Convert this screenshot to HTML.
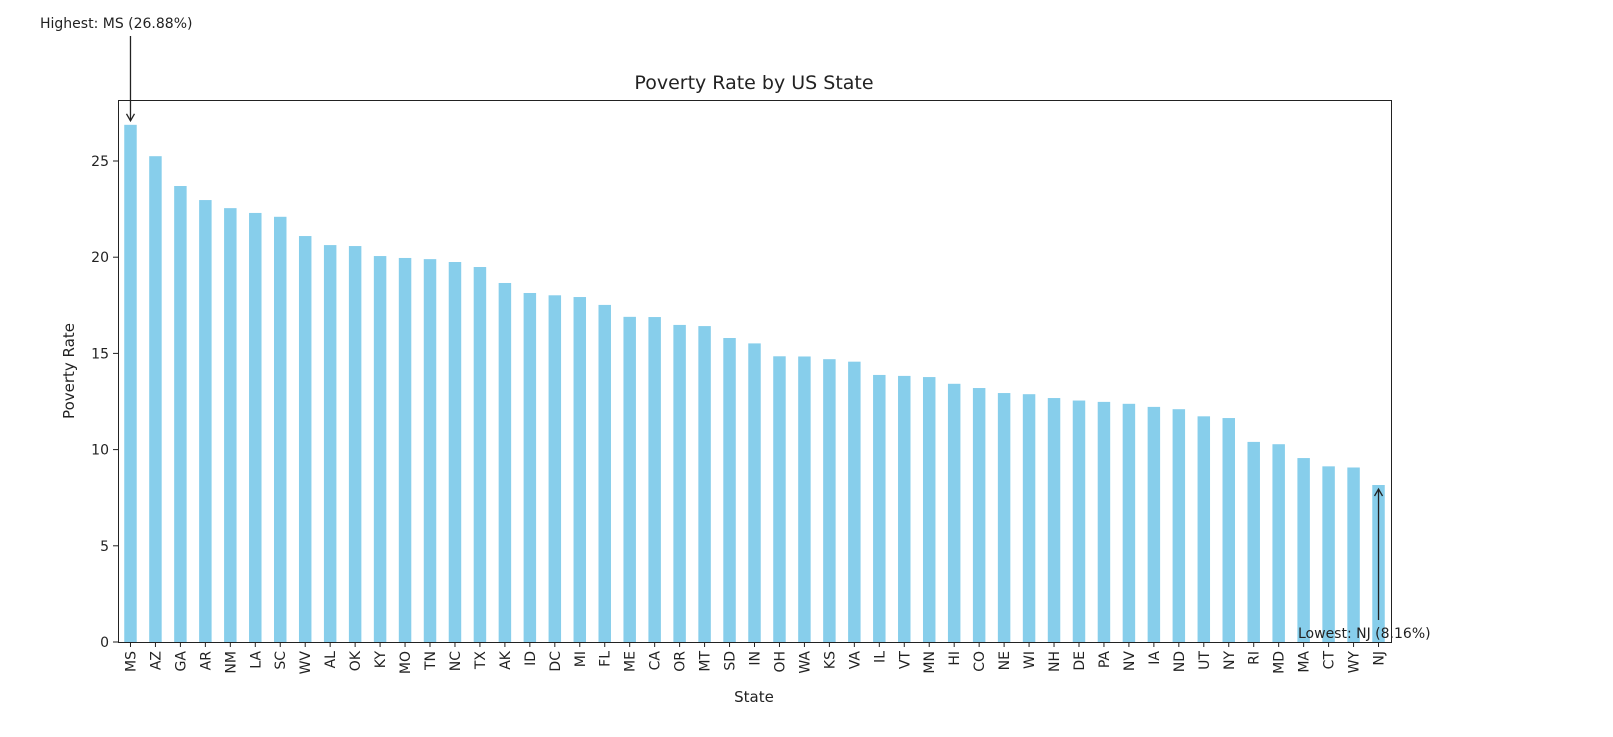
<!DOCTYPE html>
<html><head><meta charset="utf-8"><style>
body{margin:0;background:#fff;width:1613px;height:732px;overflow:hidden;font-family:"Liberation Sans","DejaVu Sans",sans-serif}
</style></head><body>
<svg id="chart" width="1613" height="732" xmlns="http://www.w3.org/2000/svg" font-family="DejaVu Sans, Liberation Sans, sans-serif">
<defs><marker id="ah" markerWidth="10" markerHeight="10" refX="8" refY="5" orient="auto" markerUnits="userSpaceOnUse"><path d="M1,1 L8,5 L1,9" fill="none" stroke="#222" stroke-width="1.3"/></marker></defs>
<text x="754" y="89" font-size="19" text-anchor="middle" fill="#222">Poverty Rate by US State</text>
<g id="bars"></g><g id="yticks"></g><g id="xticks"></g>
<rect x="118.5" y="100.5" width="1273" height="542" fill="none" stroke="#222" stroke-width="1"/>
<text transform="translate(74,371) rotate(-90)" font-size="15" text-anchor="middle" fill="#222">Poverty Rate</text>
<text x="754" y="702" font-size="15" text-anchor="middle" fill="#222">State</text>
<g id="annot"></g>
</svg>
<script>
const states=["MS","AZ","GA","AR","NM","LA","SC","WV","AL","OK","KY","MO","TN","NC","TX","AK","ID","DC","MI","FL","ME","CA","OR","MT","SD","IN","OH","WA","KS","VA","IL","VT","MN","HI","CO","NE","WI","NH","DE","PA","NV","IA","ND","UT","NY","RI","MD","MA","CT","WY","NJ"];
const rates=[26.88,25.25,23.7,22.97,22.55,22.3,22.1,21.1,20.63,20.58,20.06,19.96,19.9,19.75,19.49,18.66,18.14,18.02,17.93,17.52,16.9,16.89,16.48,16.42,15.8,15.52,14.85,14.84,14.7,14.57,13.88,13.83,13.77,13.42,13.2,12.94,12.88,12.68,12.55,12.48,12.38,12.22,12.1,11.73,11.64,10.4,10.28,9.56,9.13,9.07,8.16];
const yTicks=[0,5,10,15,20,25];
const L=118,R=1391,B=642,PX=19.24;
const NS="http://www.w3.org/2000/svg";
const step=(R-L)/states.length;
const xc=i=>L+step*(i+0.5);
const ys=v=>B-v*PX;
function mk(t,a,p){const e=document.createElementNS(NS,t);for(const k in a)e.setAttribute(k,a[k]);p.appendChild(e);return e;}
const gb=document.getElementById('bars'),gx=document.getElementById('xticks'),gy=document.getElementById('yticks'),ga=document.getElementById('annot');
states.forEach((s,i)=>{
 const r=mk('rect',{x:xc(i)-step/4,y:ys(rates[i]),width:step/2,height:B-ys(rates[i]),fill:'#87ceeb'},gb);
 
 
 mk('line',{x1:xc(i),x2:xc(i),y1:B,y2:B+5,stroke:'#222'},gx);
 const t=mk('text',{transform:`translate(${xc(i)+5},${B+9}) rotate(-90)`,'font-size':14,'text-anchor':'end',fill:'#222'},gx);
 t.textContent=s;
 
 
});
yTicks.forEach(v=>{
 mk('line',{x1:L-5,x2:L,y1:ys(v),y2:ys(v),stroke:'#222'},gy);
 const t=mk('text',{x:L-9,y:ys(v)+5,'font-size':14,'text-anchor':'end',fill:'#222'},gy);
 t.textContent=v;
 
 
});
let mi=0,ni=0;rates.forEach((v,i)=>{if(v>rates[mi])mi=i;if(v<rates[ni])ni=i;});
const h=mk('text',{x:40,y:28,'font-size':14,fill:'#222'},ga);
h.textContent=`Highest: ${states[mi]} (${rates[mi].toFixed(2)}%)`;


mk('line',{x1:xc(mi),x2:xc(mi),y1:36,y2:ys(rates[mi])-4,stroke:'#222','stroke-width':1.3,'marker-end':'url(#ah)'},ga);
const lo=mk('text',{x:1298,y:638,'font-size':14,fill:'#222'},ga);
lo.textContent=`Lowest: ${states[ni]} (${rates[ni].toFixed(2)}%)`;


mk('line',{x1:xc(ni),x2:xc(ni),y1:620,y2:ys(rates[ni])+4,stroke:'#222','stroke-width':1.3,'marker-end':'url(#ah)'},ga);
</script>
</body></html>
